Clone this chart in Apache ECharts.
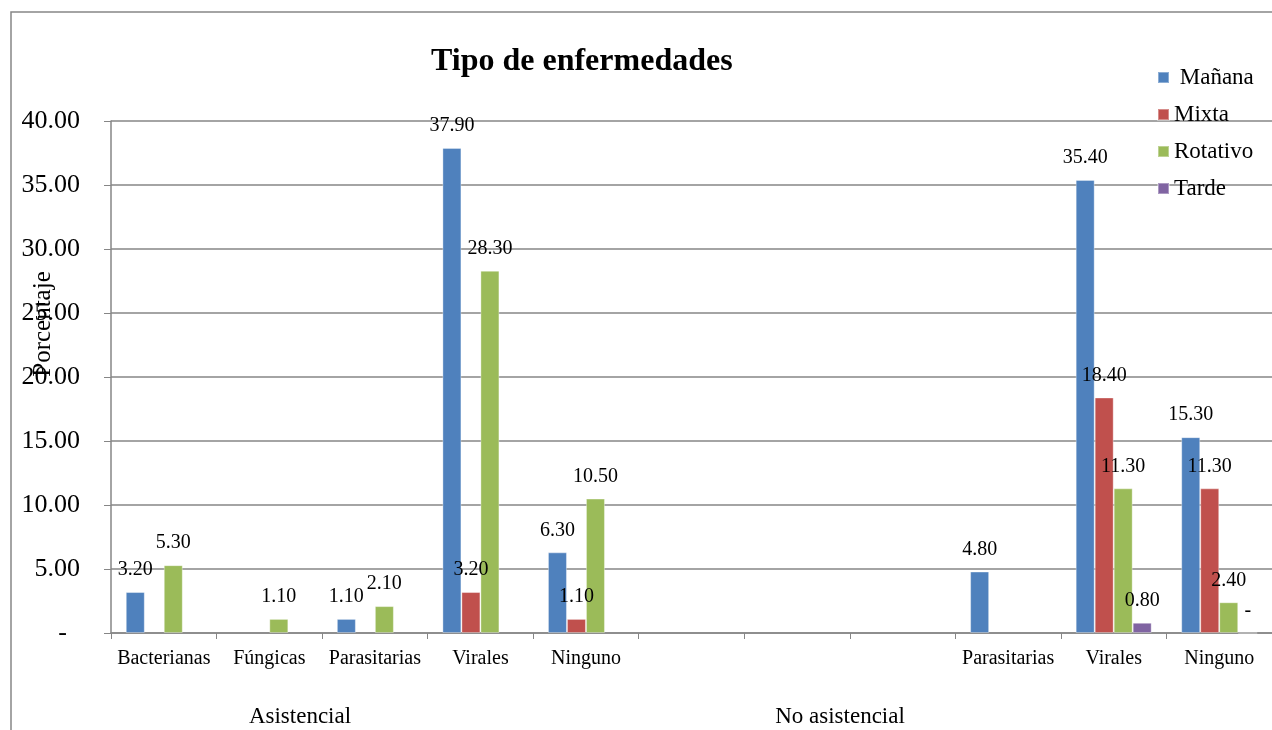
<!DOCTYPE html>
<html>
<head>
<meta charset="utf-8">
<script src="https://cdn.jsdelivr.net/npm/echarts@6/dist/echarts.min.js"></script>
<style>
  html, body { margin: 0; padding: 0; background: #fff; }
  #chart-container { width: 1272px; height: 730px; }
</style>
</head>
<body>
<div id="chart-container"></div>
<script>
// categories (blank slots are empty categories in the original sheet)
var categories = ['Bacterianas', 'Fúngicas', 'Parasitarias', 'Virales', 'Ninguno', '', '', '', 'Parasitarias', 'Virales', 'Ninguno'];
var groups = ['Asistencial', 'No asistencial'];
var seriesNames = ['Mañana', 'Mixta', 'Rotativo', 'Tarde'];

var manana   = [3.2, null, 1.1, 37.9, 6.3, null, null, null, 4.8, 35.4, 15.3];
var mixta    = [null, null, null, 3.2, 1.1, null, null, null, null, 18.4, 11.3];
var rotativo = [5.3, 1.1, 2.1, 28.3, 10.5, null, null, null, null, 11.3, 2.4];
var tarde    = [null, null, null, null, null, null, null, null, null, 0.8, 0];

var colors = ['#4F81BD', '#C0504D', '#9BBB59', '#8064A2'];
var font = 'Liberation Serif';

var dom = document.getElementById('chart-container');
var myChart = echarts.init(dom, null, { renderer: 'canvas' });

function fmt(v) {
    return v === 0 ? '-' : v.toFixed(2);
}

function makeSeries(name, data) {
    return {
        name: name,
        type: 'bar',
        data: data,
        barGap: '0%',
        barCategoryGap: '28%',
        itemStyle: { borderColor: 'rgba(255,255,255,0.35)', borderWidth: 1 },
        label: {
            show: true,
            position: 'top',
            distance: 12,
            color: '#000',
            fontFamily: font,
            fontSize: 20,
            formatter: function (p) { return p.value == null ? '' : fmt(p.value); }
        }
    };
}

var option = {
    animation: false,
    color: colors,
    title: {
        text: 'Tipo de enfermedades',
        left: 431,
        top: 46,
        padding: 0,
        textStyle: { fontFamily: font, fontSize: 32, fontWeight: 'bold', color: '#000' }
    },
    legend: {
        orient: 'vertical',
        left: 1152,
        top: 61,
        itemWidth: 11,
        itemHeight: 11,
        itemGap: 14,
        icon: 'rect',
        data: seriesNames,
        formatter: function (n) { return n === 'Mañana' ? ' ' + n : n; },
        textStyle: { fontFamily: font, fontSize: 23, color: '#000' }
    },
    grid: { left: 111, right: 0, top: 121, bottom: 97 },
    xAxis: {
        type: 'category',
        data: categories,
        axisLine: { lineStyle: { color: '#868686', width: 1.5 } },
        axisTick: { show: true, length: 6, lineStyle: { color: '#868686' } },
        axisLabel: { interval: 0, margin: 16, color: '#000', fontFamily: font, fontSize: 20 }
    },
    yAxis: {
        type: 'value',
        min: 0,
        max: 40,
        interval: 5,
        axisLine: { show: true, lineStyle: { color: '#868686', width: 1.5 } },
        axisTick: { show: true, length: 7, lineStyle: { color: '#868686' } },
        splitLine: { lineStyle: { color: '#868686', width: 1.5 } },
        axisLabel: {
            margin: 31,
            color: '#000',
            fontFamily: font,
            fontSize: 26,
            formatter: function (v) { return v === 0 ? '-  ' : v.toFixed(2); }
        }
    },
    graphic: [
        {
            type: 'rect',
            shape: { x: 11, y: 12, width: 1400, height: 900 },
            style: { fill: 'none', stroke: '#868686', lineWidth: 1.5 },
            silent: true
        },
        {
            type: 'text',
            x: 43,
            y: 324,
            rotation: Math.PI / 2,
            style: { text: 'Porcentaje', fontFamily: font, fontSize: 25, fill: '#000', align: 'center', verticalAlign: 'middle' }
        },
        {
            type: 'text',
            x: 300,
            y: 717,
            style: { text: groups[0], fontFamily: font, fontSize: 23, fill: '#000', align: 'center', verticalAlign: 'middle' }
        },
        {
            type: 'text',
            x: 840,
            y: 717,
            style: { text: groups[1], fontFamily: font, fontSize: 23, fill: '#000', align: 'center', verticalAlign: 'middle' }
        }
    ],
    series: [
        makeSeries(seriesNames[0], manana),
        makeSeries(seriesNames[1], mixta),
        makeSeries(seriesNames[2], rotativo),
        makeSeries(seriesNames[3], tarde)
    ]
};

myChart.setOption(option);
window.addEventListener('resize', myChart.resize);
</script>
</body>
</html>
